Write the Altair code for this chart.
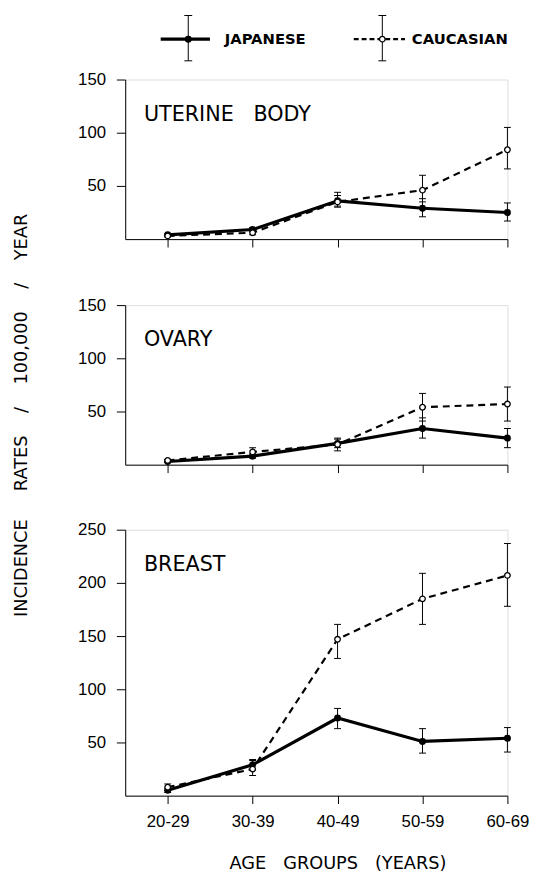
import altair as alt
import pandas as pd

ages = ["20-29", "30-39", "40-49", "50-59", "60-69"]
groups = ["JAPANESE", "CAUCASIAN"]

uterine_jap = [4, 9, 36, 29, 25]
uterine_jap_lo = [3, 7, 31, 21, 17]
uterine_jap_hi = [5, 11, 41, 38, 34]
uterine_cau = [3, 6, 35, 46, 84]
uterine_cau_lo = [2, 4, 30, 35, 66]
uterine_cau_hi = [4, 8, 44, 60, 105]

ovary_jap = [3, 8, 20, 34, 25]
ovary_jap_lo = [2, 6, 16, 25, 16]
ovary_jap_hi = [4, 10, 24, 44, 34]
ovary_cau = [4, 12, 19, 54, 57]
ovary_cau_lo = [3, 8, 13, 41, 41]
ovary_cau_hi = [5, 16, 25, 67, 73]

breast_jap = [5, 29, 73, 51, 54]
breast_jap_lo = [3, 24, 63, 40, 41]
breast_jap_hi = [7, 34, 82, 63, 64]
breast_cau = [8, 25, 147, 185, 207]
breast_cau_lo = [5, 19, 129, 161, 178]
breast_cau_hi = [11, 33, 161, 209, 237]

FONT = "DejaVu Sans"
NB = "\u00a0"


def frame(jap, jl, jh, cau, cl, ch):
    rows = []
    for i, a in enumerate(ages):
        rows.append({"age": a, "group": groups[0], "value": jap[i], "lo": jl[i], "hi": jh[i]})
        rows.append({"age": a, "group": groups[1], "value": cau[i], "lo": cl[i], "hi": ch[i]})
    return pd.DataFrame(rows)


def panel(title, df, ymax, yticks, height, show_labels, extra=None):
    xaxis = alt.Axis(labels=show_labels, ticks=True, tickSize=8, domain=True, title=None,
                     labelPadding=10, labelAngle=0, grid=False, labelFontSize=17,
                     domainColor="black", tickColor="black")
    X = alt.X("age:O", sort=ages, scale=alt.Scale(type="point", padding=0.25, align=1), axis=xaxis)
    yaxis = alt.Axis(values=yticks, tickSize=9, labelPadding=11, title=None, grid=False, labelFontSize=17,
                     domainColor="black", tickColor="black")
    ysc = alt.Scale(domain=[0, ymax], nice=False)
    base = alt.Chart(df).encode(x=X)
    jap = base.transform_filter(alt.datum.group == "JAPANESE")
    cau = base.transform_filter(alt.datum.group == "CAUCASIAN")
    layers = [
        jap.mark_line(color="black", strokeWidth=3.2).encode(y=alt.Y("value:Q", scale=ysc, axis=yaxis)),
        cau.mark_line(color="black", strokeWidth=2.2, strokeDash=[7, 5]).encode(
            y=alt.Y("value:Q", scale=ysc, axis=yaxis)),
        base.mark_rule(color="black", strokeWidth=1).encode(
            y=alt.Y("lo:Q", scale=ysc, axis=yaxis), y2="hi:Q"),
        base.mark_tick(orient="horizontal", size=7, thickness=1, color="black", opacity=1).encode(
            y=alt.Y("lo:Q", scale=ysc, axis=yaxis)),
        base.mark_tick(orient="horizontal", size=7, thickness=1, color="black", opacity=1).encode(
            y=alt.Y("hi:Q", scale=ysc, axis=yaxis)),
        jap.mark_point(shape="circle", filled=True, color="black", size=50, opacity=1).encode(
            y=alt.Y("value:Q", scale=ysc, axis=yaxis)),
        cau.mark_point(shape="circle", filled=True, fill="white", stroke="black", strokeWidth=1.3,
                       size=32, opacity=1).encode(y=alt.Y("value:Q", scale=ysc, axis=yaxis)),
        alt.Chart(pd.DataFrame({"t": [title]})).mark_text(
            align="left", baseline="middle", fontSize=21, font=FONT, color="black").encode(
            x=alt.value(19), y=alt.value(36), text="t:N"),
    ]
    if extra:
        layers += extra
    return alt.layer(*layers).properties(width=388, height=height)


one = pd.DataFrame({"k": [0]})


def legend_layers():
    L = []
    specs = [(36, 86, 64, 101, "JAPANESE", True), (232, 284, 261, 291, "CAUCASIAN", False)]
    for x0, x1, xc, xt, label, solid in specs:
        if solid:
            L.append(alt.Chart(one).mark_rule(color="black", strokeWidth=3.2).encode(
                x=alt.value(x0), x2=alt.value(x1), y=alt.value(-41)))
        else:
            L.append(alt.Chart(one).mark_rule(color="black", strokeWidth=2.2, strokeDash=[5, 3]).encode(
                x=alt.value(x0), x2=alt.value(x1), y=alt.value(-41)))
        L.append(alt.Chart(one).mark_rule(color="black", strokeWidth=1).encode(
            x=alt.value(xc), y=alt.value(-65), y2=alt.value(-19)))
        for yy in (-65, -19):
            L.append(alt.Chart(one).mark_rule(color="black", strokeWidth=1).encode(
                x=alt.value(xc - 4), x2=alt.value(xc + 4), y=alt.value(yy)))
        if solid:
            L.append(alt.Chart(one).mark_point(shape="circle", filled=True, color="black", size=50,
                                               opacity=1).encode(x=alt.value(xc), y=alt.value(-41)))
        else:
            L.append(alt.Chart(one).mark_point(shape="circle", filled=True, fill="white", stroke="black",
                                               strokeWidth=1.3, size=32, opacity=1).encode(
                x=alt.value(xc), y=alt.value(-41)))
        L.append(alt.Chart(pd.DataFrame({"t": [label]})).mark_text(
            align="left", baseline="middle", fontSize=15, fontWeight="bold", font=FONT, color="black").encode(
            x=alt.value(xt), y=alt.value(-41), text="t:N"))
    return L


ylabel = f"INCIDENCE{NB*5}RATES{NB*4}/{NB*4}100,000{NB*4}/{NB*4}YEAR"
ytitle = alt.Chart(pd.DataFrame({"t": [ylabel]})).mark_text(
    angle=270, align="center", baseline="middle", fontSize=18, font=FONT, color="black").encode(
    x=alt.value(-105), y=alt.value(112), text="t:N")

xtitle = alt.Chart(pd.DataFrame({"t": [f"AGE{NB*3}GROUPS{NB*3}(YEARS)"]})).mark_text(
    align="center", baseline="middle", fontSize=18, font=FONT, color="black").encode(
    x=alt.value(216), y=alt.value(270 + 69), text="t:N")

p1 = panel(f"UTERINE{NB*3}BODY",
           frame(uterine_jap, uterine_jap_lo, uterine_jap_hi, uterine_cau, uterine_cau_lo, uterine_cau_hi),
           150, [50, 100, 150], 162, False, legend_layers())
p2 = panel("OVARY",
           frame(ovary_jap, ovary_jap_lo, ovary_jap_hi, ovary_cau, ovary_cau_lo, ovary_cau_hi),
           150, [50, 100, 150], 162, False, [ytitle])
p3 = panel("BREAST",
           frame(breast_jap, breast_jap_lo, breast_jap_hi, breast_cau, breast_cau_lo, breast_cau_hi),
           250, [50, 100, 150, 200, 250], 270, True, [xtitle])

lower = alt.vconcat(p2, p3, spacing=66, bounds="flush")
chart = alt.vconcat(p1, lower, spacing=67, bounds="flush").properties(
    padding={"left": 4, "top": 0, "right": 5, "bottom": 0}
).configure_view(stroke=None).configure_axis(
    domainColor="black", tickColor="black", labelColor="black", labelFont=FONT,
    domainWidth=1.5, tickWidth=1.5
).configure(background="white")

chart.save("out.html", embed_options={"renderer": "svg", "actions": False})
